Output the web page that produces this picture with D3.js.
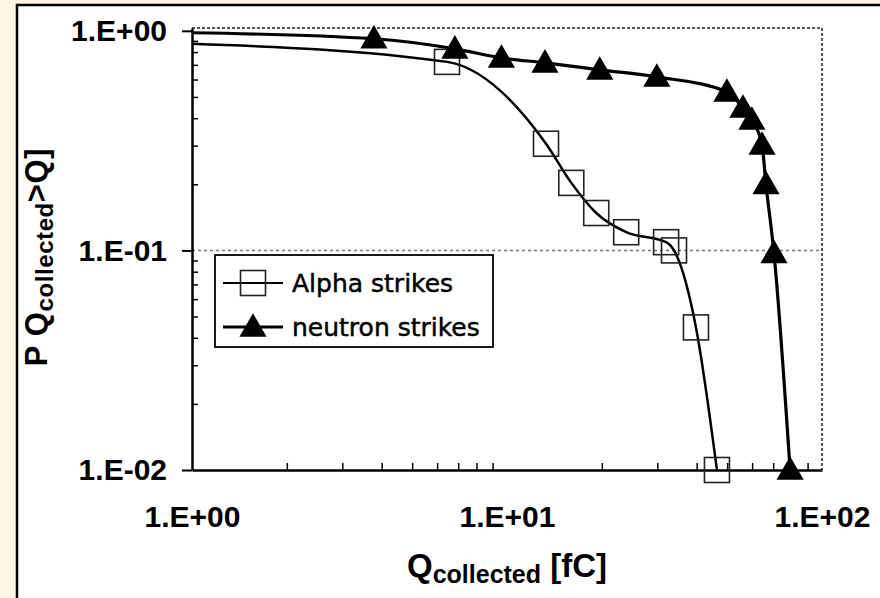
<!DOCTYPE html>
<html>
<head>
<meta charset="utf-8">
<script src="https://cdn.jsdelivr.net/npm/d3@7"></script>
<style>
  html, body { margin: 0; padding: 0; background: #fdf6e4; }
  svg { display: block; }
</style>
</head>
<body>
<div id="chart"></div>
<script>
const WIDTH = 880;
const HEIGHT = 598;

// plot box inside the page
const plot = { left: 192, right: 822, top: 28, bottom: 470 };

// series (Q in fC, probability)
const alphaQ = [1, 6.45, 13.3, 16.0, 19.2, 23.9, 32.0, 33.9, 39.8, 46.4];
const alphaP = [0.873, 0.722, 0.306, 0.203, 0.148, 0.121, 0.109, 0.1, 0.0446, 0.01];
const neutronQ = [1, 3.78, 6.83, 9.6, 13.2, 19.7, 29.9, 49.9, 56.1, 59.9, 64.5, 66.4, 70.4, 79.2];
const neutronP = [0.98, 0.92, 0.828, 0.753, 0.715, 0.664, 0.617, 0.527, 0.446, 0.393, 0.302, 0.2, 0.097, 0.01];

const seriesNames = ['Alpha strikes', 'neutron strikes'];

const xTickValues = [1, 10, 100];
const xTickLabels = ['1.E+00', '1.E+01', '1.E+02'];
const yTickValues = [0.01, 0.1, 1];
const yTickLabels = ['1.E-02', '1.E-01', '1.E+00'];

const svg = d3
  .select('#chart')
  .append('svg')
  .attr('width', WIDTH)
  .attr('height', HEIGHT);

// white sheet with a black edge (runs off the right and bottom)
svg
  .append('rect')
  .attr('x', 17)
  .attr('y', 5)
  .attr('width', WIDTH + 20)
  .attr('height', HEIGHT + 20)
  .attr('fill', '#fff')
  .attr('stroke', '#000')
  .attr('stroke-width', 2.5);

const x = d3.scaleLog().domain([1, 100]).range([plot.left, plot.right]);
const y = d3.scaleLog().domain([0.01, 1.03]).range([plot.bottom, plot.top]);

const minorX = [];
const minorY = [];
[1, 10].forEach((d) => {
  for (let k = 2; k <= 9; k++) minorX.push(d * k);
});
[0.01, 0.1].forEach((d) => {
  for (let k = 2; k <= 9; k++) minorY.push(d * k);
});

// dotted frame top/right + gridline at 1.E-01
const grid = svg.append('g').attr('fill', 'none').attr('stroke', '#555');
grid
  .append('path')
  .attr('stroke-width', 2)
  .attr('stroke-dasharray', '3,2')
  .attr('d', `M${plot.left},${plot.top}H${plot.right}V${plot.bottom}`);
grid
  .append('line')
  .attr('stroke-width', 1.5)
  .attr('stroke-dasharray', '3,3')
  .attr('stroke', '#777')
  .attr('x1', plot.left)
  .attr('x2', plot.right)
  .attr('y1', y(0.1))
  .attr('y2', y(0.1));

const tickFont = 'Liberation Sans, Arial, sans-serif';

// minor ticks point into the plot
svg
  .append('g')
  .attr('transform', `translate(${plot.left},0)`)
  .call(d3.axisRight(y).tickValues(minorY).tickSize(6).tickFormat(''))
  .call((g) => g.select('.domain').remove())
  .call((g) => g.selectAll('line').attr('stroke-width', 1.5));
svg
  .append('g')
  .attr('transform', `translate(0,${plot.bottom})`)
  .call(d3.axisTop(x).tickValues(minorX).tickSize(7).tickFormat(''))
  .call((g) => g.select('.domain').remove())
  .call((g) => g.selectAll('line').attr('stroke-width', 1.5));

// major axes
svg
  .append('g')
  .attr('transform', `translate(${plot.left},0)`)
  .call(
    d3
      .axisLeft(y)
      .tickValues(yTickValues)
      .tickSize(10)
      .tickSizeOuter(0)
      .tickPadding(15)
      .tickFormat((d, i) => yTickLabels[i])
  )
  .call((g) => g.select('.domain').attr('stroke-width', 2.5))
  .call((g) => g.selectAll('line').attr('stroke-width', 2))
  .call((g) =>
    g
      .selectAll('text')
      .attr('font-family', tickFont)
      .attr('font-weight', 'bold')
      .attr('font-size', 30)
      .attr('fill', '#000')
  );

svg
  .append('g')
  .attr('transform', `translate(0,${plot.bottom})`)
  .call(
    d3
      .axisBottom(x)
      .tickValues(xTickValues)
      .tickSize(0)
      .tickSizeOuter(0)
      .tickPadding(36)
      .tickFormat((d, i) => xTickLabels[i])
  )
  .call((g) => g.select('.domain').attr('stroke-width', 2.5))
  .call((g) =>
    g
      .selectAll('text')
      .attr('font-family', tickFont)
      .attr('font-weight', 'bold')
      .attr('font-size', 30)
      .attr('fill', '#000')
  );

// axis titles
const xTitle = svg
  .append('text')
  .attr('x', (plot.left + plot.right) / 2)
  .attr('y', 577)
  .attr('text-anchor', 'middle')
  .attr('font-family', tickFont)
  .attr('font-weight', 'bold')
  .attr('font-size', 33);
xTitle.append('tspan').text('Q');
xTitle.append('tspan').attr('font-size', 25).attr('dy', 6).text('collected');
xTitle.append('tspan').attr('dy', -6).text(' [fC]');

const yTitle = svg
  .append('text')
  .attr('transform', `translate(47,${(plot.top + plot.bottom) / 2 + 8}) rotate(-90)`)
  .attr('text-anchor', 'middle')
  .attr('font-family', tickFont)
  .attr('font-weight', 'bold')
  .attr('font-size', 31)
  .attr('letter-spacing', 0.6);
yTitle.append('tspan').text('P Q');
yTitle.append('tspan').attr('font-size', 24).attr('dy', 6).text('collected');
yTitle.append('tspan').attr('dy', -6).text('>Q]');

// curves
const alpha = alphaQ.map((q, i) => ({ q, p: alphaP[i] }));
const neutron = neutronQ.map((q, i) => ({ q, p: neutronP[i] }));

const curve = d3
  .line()
  .x((d) => x(d.q))
  .y((d) => y(d.p))
  .curve(d3.curveMonotoneX);

svg
  .append('path')
  .datum(alpha)
  .attr('fill', 'none')
  .attr('stroke', '#000')
  .attr('stroke-width', 2.5)
  .attr('d', curve);

svg
  .append('path')
  .datum(neutron)
  .attr('fill', 'none')
  .attr('stroke', '#000')
  .attr('stroke-width', 3.2)
  .attr('d', curve);

const SQ = 25;
const square = (g) =>
  g
    .attr('width', SQ)
    .attr('height', SQ)
    .attr('fill', 'none')
    .attr('stroke', '#222')
    .attr('stroke-width', 1.6);
const triangle = d3.symbol(d3.symbolTriangle, 320);

// first point of each series sits on the axis and has no marker
svg
  .append('g')
  .selectAll('rect')
  .data(alpha.slice(1))
  .join('rect')
  .attr('x', (d) => x(d.q) - SQ / 2)
  .attr('y', (d) => y(d.p) - SQ / 2)
  .call(square);

svg
  .append('g')
  .selectAll('path')
  .data(neutron.slice(1))
  .join('path')
  .attr('transform', (d) => `translate(${x(d.q)},${y(d.p) + 2})`)
  .attr('d', triangle)
  .attr('fill', '#000');

// legend
const legend = svg.append('g').attr('transform', 'translate(215,255)');
legend
  .append('rect')
  .attr('width', 278)
  .attr('height', 92)
  .attr('fill', '#fff')
  .attr('stroke', '#000')
  .attr('stroke-width', 1.8);

const rows = legend
  .selectAll('g.row')
  .data(seriesNames)
  .join('g')
  .attr('class', 'row')
  .attr('transform', (d, i) => `translate(0,${28 + i * 44})`);

rows
  .append('line')
  .attr('x1', 8)
  .attr('x2', 68)
  .attr('stroke', '#000')
  .attr('stroke-width', (d, i) => (i === 0 ? 2 : 3));

rows
  .filter((d, i) => i === 0)
  .append('rect')
  .attr('x', 38 - SQ / 2)
  .attr('y', -SQ / 2)
  .call(square);

rows
  .filter((d, i) => i === 1)
  .append('path')
  .attr('transform', 'translate(38,2)')
  .attr('d', triangle)
  .attr('fill', '#000');

rows
  .append('text')
  .attr('x', 77)
  .attr('y', 9)
  .attr('font-family', 'DejaVu Sans, sans-serif')
  .attr('font-size', 25)
  .attr('fill', '#000')
  .attr('stroke', '#000')
  .attr('stroke-width', 0.5)
  .text((d) => d);
</script>
</body>
</html>
